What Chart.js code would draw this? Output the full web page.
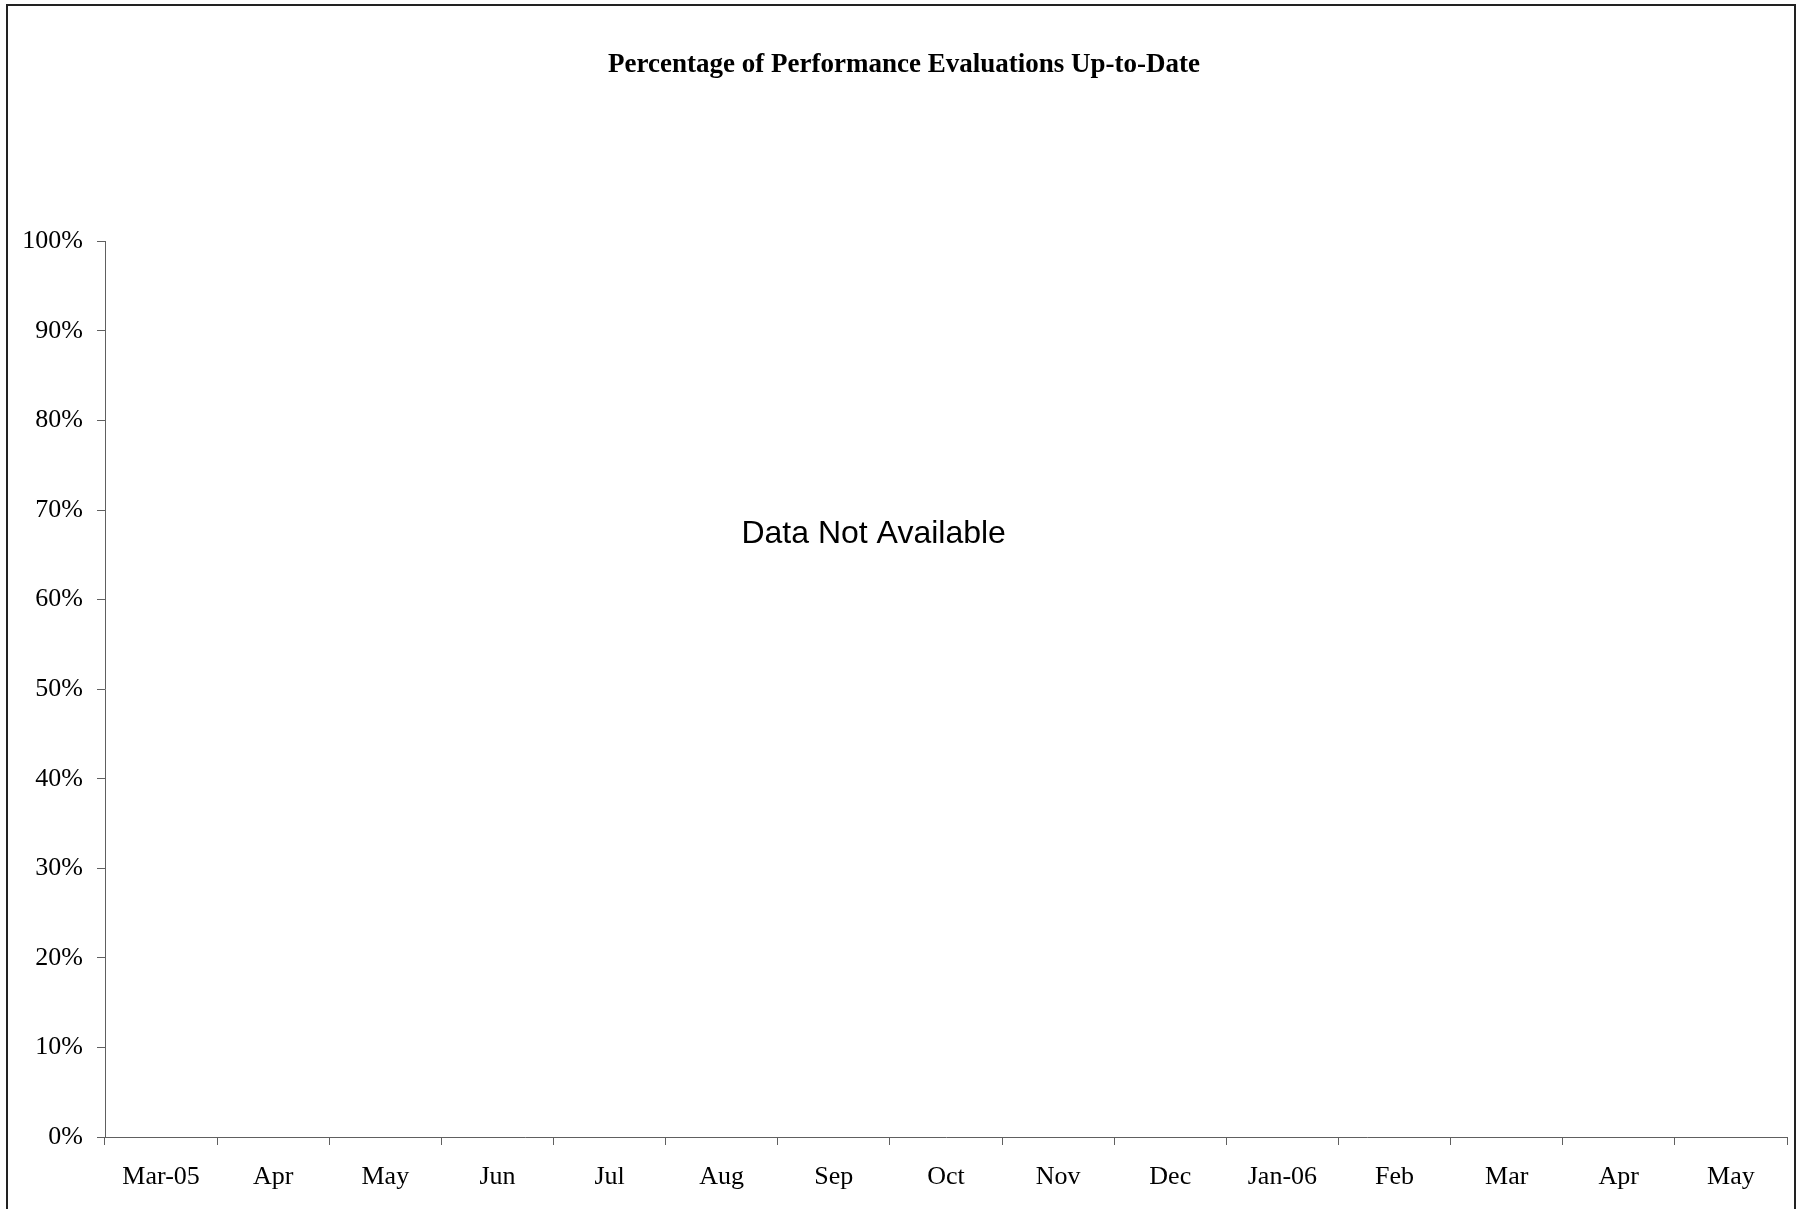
<!DOCTYPE html>
<html>
<head>
<meta charset="utf-8">
<style>
  html, body { margin: 0; padding: 0; background: #fff; }
  #wrap { width: 1801px; height: 1209px; }
</style>
<script src="https://cdn.jsdelivr.net/npm/chart.js@4/dist/chart.umd.min.js"></script>
</head>
<body>
<div id="wrap"><canvas id="evalChart" width="1801" height="1209"></canvas></div>
<script>
// ---------- DATA ----------
const months = ["Mar-05", "Apr", "May", "Jun", "Jul", "Aug", "Sep", "Oct",
  "Nov", "Dec", "Jan-06", "Feb", "Mar", "Apr", "May"];
// no values were reported for any month
const pctUpToDate = [null, null, null, null, null, null, null, null,
  null, null, null, null, null, null, null];
const yTicks = [0, 10, 20, 30, 40, 50, 60, 70, 80, 90, 100];
const TITLE = "Percentage of Performance Evaluations Up-to-Date";
const NO_DATA = "Data Not Available";

const AXIS_COLOR = "#606060";

// ---------- PLUGINS ----------
const frame = {
  id: "frame",
  afterDraw(chart) {
    const ctx = chart.ctx;
    ctx.save();
    ctx.strokeStyle = "#222";
    ctx.lineWidth = 2;
    ctx.strokeRect(7, 5, chart.width - 13, chart.height + 20);
    ctx.restore();
  },
};

const noData = {
  id: "noData",
  afterDraw(chart) {
    const { ctx, chartArea, scales } = chart;
    ctx.save();
    ctx.fillStyle = "#000";
    ctx.font = "32px 'Liberation Sans', Arial, sans-serif";
    ctx.textAlign = "center";
    ctx.textBaseline = "middle";
    const x = chartArea.left + chartArea.width * 0.457;
    const y = scales.y.getPixelForValue(67.3);
    ctx.fillText(NO_DATA, x, y);
    ctx.restore();
  },
};

// ---------- CHART ----------
new Chart(document.getElementById("evalChart"), {
  type: "line",
  data: {
    labels: months,
    datasets: [{ label: "Up-to-Date", data: pctUpToDate, borderColor: "#000" }],
  },
  options: {
    responsive: false,
    animation: false,
    layout: { padding: { left: 21, right: 14, top: 0, bottom: 0 } },
    plugins: {
      legend: { display: false },
      tooltip: { enabled: false },
      title: {
        display: true,
        text: TITLE,
        color: "#000",
        font: { family: "'Liberation Serif', 'Times New Roman', serif", size: 27, weight: "bold" },
        padding: { top: 49, bottom: 160 },
      },
    },
    scales: {
      x: {
        type: "category",
        offset: true,
        grid: {
          offset: true,
          drawOnChartArea: false,
          drawTicks: true,
          tickLength: 8,
          color: AXIS_COLOR,
        },
        border: { display: true, color: AXIS_COLOR, width: 1 },
        ticks: {
          color: "#000",
          maxRotation: 0,
          autoSkip: false,
          padding: 17,
          font: { family: "'Liberation Serif', 'Times New Roman', serif", size: 26 },
        },
        afterFit(scale) { scale.height = 72; },
      },
      y: {
        min: 0,
        max: 100,
        afterBuildTicks(scale) {
          scale.ticks = yTicks.map((v) => ({ value: v }));
        },
        grid: {
          drawOnChartArea: false,
          drawTicks: true,
          tickLength: 8,
          color: AXIS_COLOR,
        },
        border: { display: true, color: AXIS_COLOR, width: 1 },
        ticks: {
          color: "#000",
          padding: 14,
          callback: (v) => v + "%",
          font: { family: "'Liberation Serif', 'Times New Roman', serif", size: 26 },
        },
        afterFit(scale) { scale.width = 84; },
      },
    },
  },
  plugins: [frame, noData],
});
</script>
</body>
</html>
